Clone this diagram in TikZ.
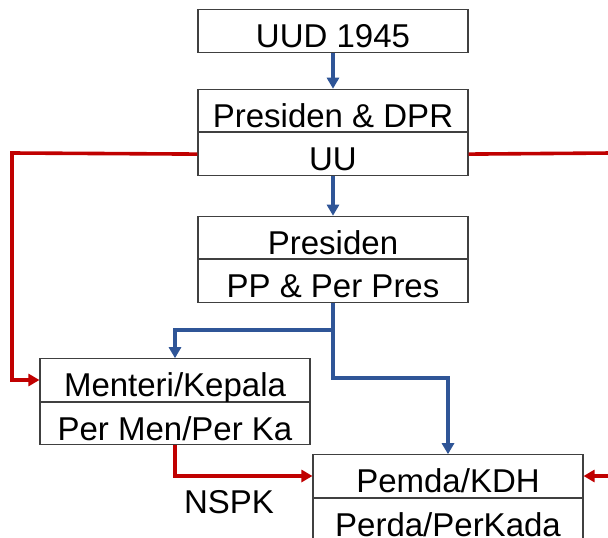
\documentclass[tikz,border=0pt]{standalone}
\usepackage{fontspec}
\setmainfont{Liberation Sans}
\usetikzlibrary{positioning,arrows.meta}
\definecolor{garisbiru}{RGB}{47,85,151}
\definecolor{garismerah}{RGB}{192,0,0}
\tikzset{
  cell/.style={draw=black!75, line width=1.1pt, minimum width=270pt, minimum height=42.5pt,
    inner sep=0pt, text height=33pt, text depth=0pt, font=\fontsize{33}{38}\selectfont},
  biru/.style={draw=garisbiru, line width=3.3pt, -{Triangle[length=11pt,width=12pt]}},
  merah/.style={draw=garismerah, line width=3.6pt, -{Triangle[length=11pt,width=12pt]}}
}
\begin{document}
\begin{tikzpicture}[x=1pt,y=-1pt]
          \useasboundingbox (0,0) rectangle (608,538);

          \node[cell] (uud) at (333,31) {UUD 1945};
          \node[cell] (presdpr) at (333,110.5) {Presiden \& DPR};
          \node[cell, below=0pt of presdpr] (uu) {UU};
          \node[cell] (presiden) at (333,237.5) {Presiden};
          \node[cell, below=0pt of presiden] (pp) {PP \& Per Pres};
          \node[cell] (menteri) at (175,380) {Menteri/Kepala};
          \node[cell, below=0pt of menteri] (permen) {Per Men/Per Ka};
          \node[cell] (pemda) at (448,476) {Pemda/KDH};
          \node[cell, below=0pt of pemda] (perda) {Perda/PerKada};
          \node[font=\fontsize{33}{38}\selectfont] (nspk) at (229,502) {NSPK};

          \coordinate (kiri) at (12,153);
          \coordinate (kanan1) at (612,153);
          \coordinate (kanan2) at (612,476);
          \coordinate (cabang) at (333,330);
          \coordinate (belok) at (333,378);

          \draw[biru] (uud) -- (presdpr);
          \draw[biru] (uu) -- (presiden);
          \draw[biru] (pp.south) -- (cabang) -| (menteri.north);
          \draw[biru] (cabang) -- (belok) -| (pemda.north);

          \draw[merah] (uu.west) -- (kiri) |- (menteri.west);
          \draw[merah,-] (uu.east) -- (kanan1);
          \draw[merah] (permen.south) |- (pemda.west);
          \draw[merah] (kanan2) -- (pemda.east);
        \end{tikzpicture}
\end{document}
